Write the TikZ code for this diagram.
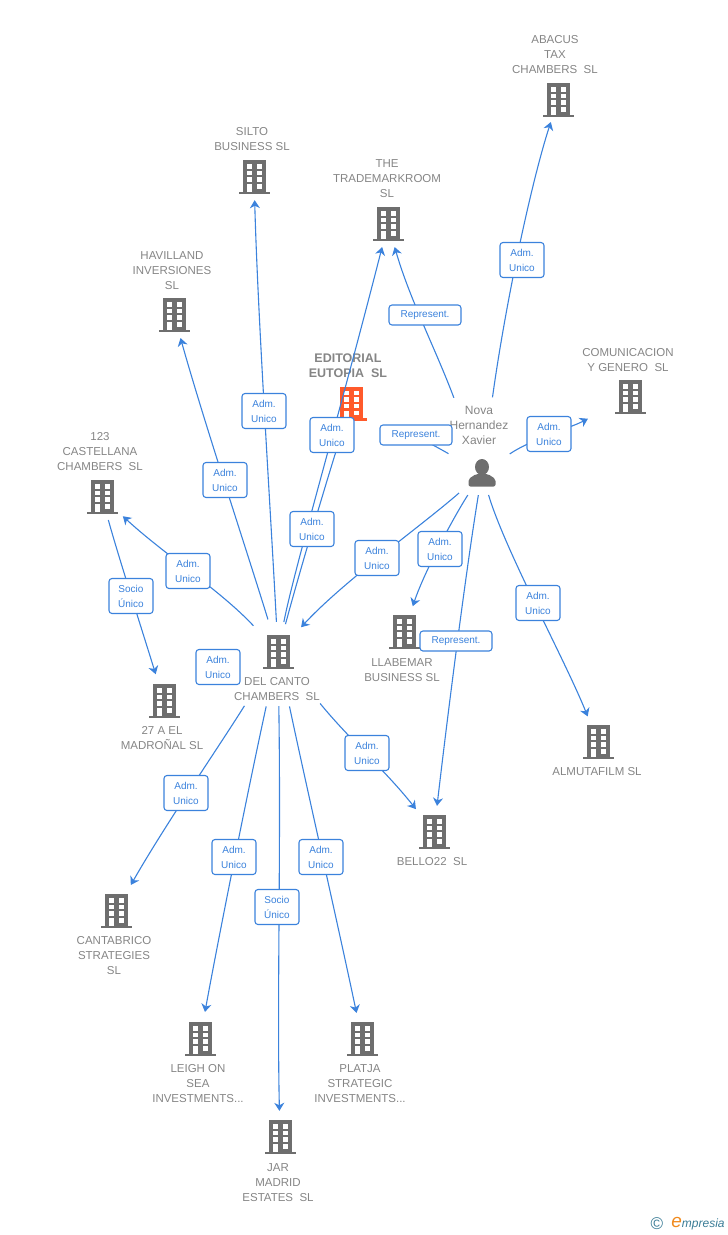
\documentclass[tikz,border=0pt]{standalone}
\usepackage{fontspec}
\setmainfont{Liberation Sans}
\usetikzlibrary{arrows.meta}
\definecolor{iconGray}{HTML}{6E6E6E}
\definecolor{textGray}{HTML}{858585}
\definecolor{linkBlue}{HTML}{3B82DC}
\definecolor{mainOrange}{HTML}{FF5A2B}
\definecolor{logoBlue}{HTML}{3A7C96}
\definecolor{logoOrange}{HTML}{F08A1D}
\tikzset{
  building/.style={minimum width=34,minimum height=36,inner sep=0,
    path picture={\begin{scope}[shift={(path picture bounding box.center)}]
      \fill [#1] (-11.5,-17) rectangle (11.5,17);
      \fill [#1] (-15.5,14.5) rectangle (16,17);
      \foreach \rowy in {-13,-6.5,0} {
        \fill [white] (-7,\rowy) rectangle (-2.5,\rowy+4.5);
        \fill [white] (3,\rowy) rectangle (8,\rowy+4.5);
      }
      \fill [white] (-7,7) rectangle (-2.5,14.5);
      \fill [white] (3,7) rectangle (8,11.5);
    \end{scope}}},
  person/.style={minimum width=32,minimum height=32,inner sep=0,
    path picture={\begin{scope}[shift={(path picture bounding box.center)}]
      \fill [iconGray] (0,-6) ellipse (7 and 8);
      \fill [iconGray,rounded corners=2] (-13.5,13.5) -- (-13.5,6) -- (-6,1) -- (6,1) -- (13.5,6) -- (13.5,13.5) -- cycle;
    \end{scope}}},
  company/.style={align=center,inner sep=1,text=textGray,font=\fontsize{11.5}{15}\selectfont},
  role/.style={draw=linkBlue,fill=white,rounded corners=3,line width=1.1,text=linkBlue,
    align=center,inner sep=0,minimum width=44,minimum height=35,font=\fontsize{10}{15}\selectfont},
  rolewide/.style={role,minimum width=72,minimum height=20},
  link/.style={linkBlue,line width=1.1,-{Stealth[length=8,width=10,inset=2.5]}},
}
\begin{document}
\begin{tikzpicture}[line join=bevel,x=1pt,y=-1pt]
\useasboundingbox (0,0) rectangle (728,1235);
%% companies
\node (node_abacus) at (558,100) [building=iconGray] {};
\node (node_silto) at (254,177) [building=iconGray] {};
\node (node_trademark) at (388,224) [building=iconGray] {};
\node (node_havilland) at (174,315) [building=iconGray] {};
\node (node_editorial) at (351,403.5) [building=mainOrange] {};
\node (node_comunicacion) at (630,397) [building=iconGray] {};
\node (node_123) at (102,497) [building=iconGray] {};
\node (node_delcanto) at (278,652) [building=iconGray] {};
\node (node_llabemar) at (404,632) [building=iconGray] {};
\node (node_27a) at (164,701) [building=iconGray] {};
\node (node_almutafilm) at (598,742) [building=iconGray] {};
\node (node_bello) at (434,832) [building=iconGray] {};
\node (node_cantabrico) at (116,911) [building=iconGray] {};
\node (node_leigh) at (200,1039) [building=iconGray] {};
\node (node_platja) at (362,1039) [building=iconGray] {};
\node (node_jar) at (280,1137) [building=iconGray] {};
\node (node_nova) at (482,473) [person] {};
%% names
\node (name_abacus) at (555,55) [company] {ABACUS\\TAX\\CHAMBERS\ \ SL};
\node (name_silto) at (252,139.5) [company] {SILTO\\BUSINESS SL};
\node (name_trademark) at (387,179) [company] {THE\\TRADEMARKROOM\\SL};
\node (name_havilland) at (172,271) [company] {HAVILLAND\\INVERSIONES\\SL};
\node (name_editorial) at (348,366) [company,font=\fontsize{12.5}{15}\selectfont\bfseries] {EDITORIAL\\EUTOPIA\ \ SL};
\node (name_comunicacion) at (628,360.5) [company] {COMUNICACION\\Y GENERO\ \ SL};
\node (name_123) at (100,452) [company] {123\\CASTELLANA\\CHAMBERS\ \ SL};
\node (name_nova) at (479,425.5) [company,font=\fontsize{12}{15}\selectfont] {Nova\\Hernandez\\Xavier};
\node (name_delcanto) at (277,689.5) [company] {DEL CANTO\\CHAMBERS\ \ SL};
\node (name_llabemar) at (402,670.5) [company] {LLABEMAR\\BUSINESS SL};
\node (name_27a) at (162,738.5) [company] {27 A EL\\MADROÑAL SL};
\node (name_almutafilm) at (597,772) [company] {ALMUTAFILM SL};
\node (name_bello) at (432,862) [company] {BELLO22\ \ SL};
\node (name_cantabrico) at (114,956) [company] {CANTABRICO\\STRATEGIES\\SL};
\node (name_leigh) at (198,1084) [company] {LEIGH ON\\SEA\\INVESTMENTS...};
\node (name_platja) at (360,1084) [company] {PLATJA\\STRATEGIC\\INVESTMENTS...};
\node (name_jar) at (278,1183) [company] {JAR\\MADRID\\ESTATES\ \ SL};
%% links
\draw [link,shorten <=12,shorten >=5] (node_delcanto) ..controls (270,500) and (258,320) .. (node_silto);
\draw [link,shorten <=15,shorten >=5] (node_delcanto) ..controls (245,545) and (205,425) .. (node_havilland);
\draw [link,shorten <=11,shorten >=5] (node_delcanto) ..controls (220,590) and (165,555) .. (node_123);
\draw [link,shorten <=10,shorten >=22] (node_delcanto) ..controls (300,570) and (327,480) .. (node_editorial);
\draw [link,shorten <=12,shorten >=5] (node_delcanto) ..controls (294,570) and (338,420) .. (node_trademark);
\draw [link,shorten <=42,shorten >=9] (node_delcanto) ..controls (220,745) and (165,825) .. (node_cantabrico);
\draw [link,shorten <=37,shorten >=9] (node_delcanto) ..controls (248,790) and (220,930) .. (node_leigh);
\draw [link,shorten <=36,shorten >=8] (node_delcanto) ..controls (281,850) and (277,1000) .. (node_jar);
\draw [link,shorten <=37,shorten >=8] (node_delcanto) ..controls (305,780) and (338,925) .. (node_platja);
\draw [link,shorten <=43,shorten >=6] (node_delcanto) ..controls (350,740) and (385,770) .. (node_bello);
\draw [link,shorten <=5,shorten >=9] (node_123) ..controls (118,555) and (142,630) .. (node_27a);
\draw [link,shorten <=63,shorten >=5] (node_nova) ..controls (436,350) and (410,300) .. (node_trademark);
\draw [link,shorten <=60,shorten >=4] (node_nova) ..controls (506,300) and (532,180) .. (node_abacus);
\draw [link,shorten <=14,shorten >=28] (node_nova) ..controls (530,440) and (570,428) .. (node_comunicacion);
\draw [link,shorten <=20,shorten >=35] (node_nova) ..controls (430,443) and (415,436) .. (node_editorial);
\draw [link,shorten <=9,shorten >=9] (node_nova) ..controls (420,527) and (345,580) .. (node_delcanto);
\draw [link,shorten <=7,shorten >=8] (node_nova) ..controls (455,515) and (425,570) .. (node_llabemar);
\draw [link,shorten <=6,shorten >=8] (node_nova) ..controls (466,570) and (447,720) .. (node_bello);
\draw [link,shorten <=6,shorten >=8] (node_nova) ..controls (505,550) and (565,660) .. (node_almutafilm);
%% roles
\node (role_abacus) at (522,260) [role] {Adm.\\Unico};
\node (role_trademark) at (425,315) [rolewide] {Represent.};
\node (role_silto) at (264,411) [role] {Adm.\\Unico};
\node (role_havilland) at (225,480) [role] {Adm.\\Unico};
\node (role_dctrademark) at (332,435) [role] {Adm.\\Unico};
\node (role_editorial) at (312,529) [role] {Adm.\\Unico};
\node (role_novaeditorial) at (416,435) [rolewide] {Represent.};
\node (role_comunicacion) at (549,434) [role] {Adm.\\Unico};
\node (role_novadelcanto) at (377,558) [role] {Adm.\\Unico};
\node (role_llabemar) at (440,549) [role] {Adm.\\Unico};
\node (role_123) at (188,571) [role] {Adm.\\Unico};
\node (role_27a) at (131,596) [role] {Socio\\Único};
\node (role_delcanto) at (218,667) [role] {Adm.\\Unico};
\node (role_novabello) at (456,641) [rolewide] {Represent.};
\node (role_almutafilm) at (538,603) [role] {Adm.\\Unico};
\node (role_bello) at (367,753) [role] {Adm.\\Unico};
\node (role_cantabrico) at (186,793) [role] {Adm.\\Unico};
\node (role_leigh) at (234,857) [role] {Adm.\\Unico};
\node (role_platja) at (321,857) [role] {Adm.\\Unico};
\node (role_jar) at (277,907) [role] {Socio\\Único};
%% logo
\node (logo_mark) at (657,1224) [inner sep=0,text=logoBlue,font=\fontsize{17}{17}\selectfont] {©};
\node (logo_name) at (698,1223.5) [inner sep=0,text=logoBlue,font=\fontsize{12}{12}\selectfont\itshape] {{\color{logoOrange}\fontsize{19}{12}\selectfont e}mpresia};
%
\end{tikzpicture}
\end{document}
